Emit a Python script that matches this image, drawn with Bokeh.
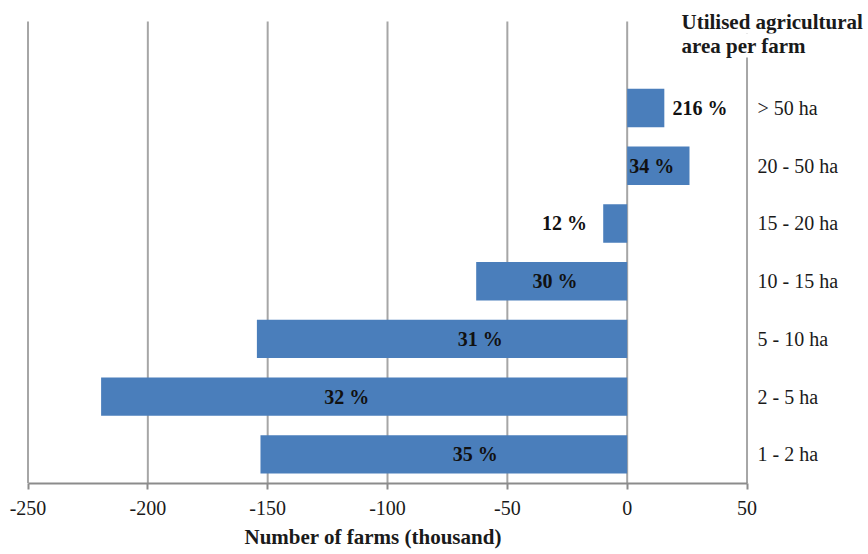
from bokeh.plotting import figure
from bokeh.models import Range1d, FixedTicker, Label, Title, ColumnDataSource
from bokeh.core.properties import value
from bokeh.embed import file_html
from bokeh.resources import INLINE

# ---- data ----
categories = ["1 - 2 ha", "2 - 5 ha", "5 - 10 ha", "10 - 15 ha", "15 - 20 ha", "20 - 50 ha", "> 50 ha"]
change_thousand = [-153, -219.5, -154.5, -63, -10, 26, 15.5]
pct_labels = ["35 %", "32 %", "31 %", "30 %", "12 %", "34 %", "216 %"]
x_ticks = [-250, -200, -150, -100, -50, 0, 50]
x_tick_labels = ["-250", "-200", "-150", "-100", "-50", "0", "50"]

# layout: where each percentage label sits along the x axis
label_x = [-63.4, -117, -61.3, -30.1, -26.2, 10.3, 30.4]
CAT_LABEL_X = 54.4          # category names, just right of the plot area
GRID_BOTTOM, GRID_TOP = -0.5, 7.5

FONT = "Liberation Serif"
idx = list(range(len(categories)))

src = ColumnDataSource(dict(y=idx, right=change_thousand, lx=label_x, txt=pct_labels,
                            cat=categories, cx=[CAT_LABEL_X] * len(idx)))
grid_src = ColumnDataSource(dict(x=x_ticks, y0=[GRID_BOTTOM] * len(x_ticks),
                                 y1=[GRID_TOP] * len(x_ticks)))

p = figure(width=868, height=554, output_backend="svg", toolbar_location=None,
           x_range=Range1d(-250.63, 100.69), y_range=Range1d(-0.505, 7.863),
           y_axis_location=None,
           min_border_left=26, min_border_right=0, min_border_top=0, min_border_bottom=71)
p.outline_line_color = None
p.background_fill_color = "white"
p.border_fill_color = "white"
p.xgrid.grid_line_color = None
p.ygrid.grid_line_color = None

# vertical gridlines
p.segment(x0="x", y0="y0", x1="x", y1="y1", source=grid_src,
          line_color="#a6a6a6", line_width=2)

# bottom axis
p.xaxis.bounds = (x_ticks[0], x_ticks[-1])
p.xaxis.ticker = FixedTicker(ticks=x_ticks)
p.xaxis.major_label_overrides = {t: s for t, s in zip(x_ticks, x_tick_labels)}
p.xaxis.axis_line_color = "#8c8c8c"
p.xaxis.axis_line_width = 2
p.xaxis.major_tick_line_color = "#8c8c8c"
p.xaxis.major_tick_line_width = 2
p.xaxis.major_tick_out = 6
p.xaxis.major_tick_in = 0
p.xaxis.minor_tick_line_color = None
p.xaxis.major_label_text_font = FONT
p.xaxis.major_label_text_font_size = "20px"
p.xaxis.major_label_text_color = "#1a1a1a"
p.xaxis.major_label_standoff = 11

# x axis title, placed under the axis and shifted to sit under the data area
p.add_layout(Title(text="Number of farms (thousand)", align="left", offset=218, standoff=11,
                   text_font=FONT, text_font_style="bold", text_font_size="21px",
                   text_color="#1a1a1a"), "below")

# bars
p.hbar(y="y", left=0, right="right", height=0.665, source=src,
       fill_color="#4A7EBB", line_color=None)

# percentage labels
p.text(x="lx", y="y", text="txt", source=src, text_align="center", text_baseline="middle",
       text_font=value(FONT), text_font_style="bold", text_font_size="20px", text_color="#111111")

# category names on the right
p.text(x="cx", y="y", text="cat", source=src, text_align="left", text_baseline="middle",
       text_font=value(FONT), text_font_size="20px", text_color="#1a1a1a")

# title (top right)
for txt, yy in [("Utilised agricultural", 9), ("area per farm", 33)]:
    p.add_layout(Label(x=681, y=yy, x_units="canvas", y_units="canvas", text=txt,
                       text_align="left", text_baseline="top",
                       text_font=FONT, text_font_style="bold", text_font_size="21px",
                       text_color="#1a1a1a", background_fill_color="white"))

open("out.html", "w").write(file_html(p, INLINE))
